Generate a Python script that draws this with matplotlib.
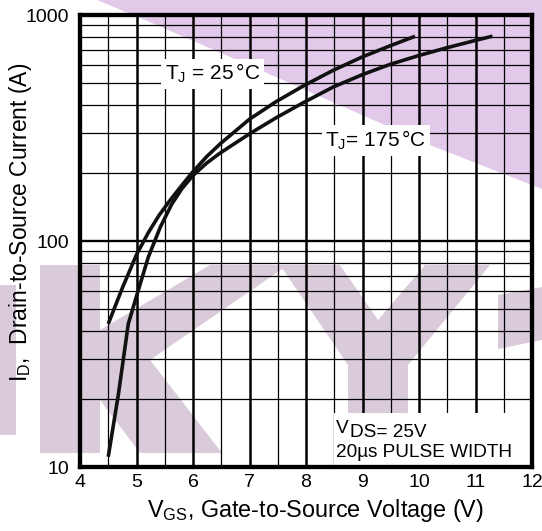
import numpy as np
import matplotlib
matplotlib.use("Agg")
import matplotlib.pyplot as plt
from matplotlib.patches import Polygon, Rectangle
from matplotlib.ticker import LogLocator, NullFormatter, FixedLocator

# transfer characteristics
vgs_25 = [4.5, 4.75, 5.0, 5.21, 5.4, 5.59, 5.8, 5.98, 6.24, 6.48, 7.0, 7.48,
          7.95, 8.48, 9.0, 9.49, 9.93]
id_25 = [43, 62, 87, 109, 130, 151, 176, 200, 236, 269, 346, 415,
         485, 569, 653, 731, 805]

vgs_175 = [4.5, 4.68, 4.855, 5.0, 5.21, 5.42, 5.62, 5.8, 6.0, 6.24, 6.48, 7.0,
           7.48, 7.95, 8.48, 9.0, 9.49, 10.0, 10.49, 11.0, 11.3]
id_175 = [11.1, 21, 43, 57, 85, 115, 145, 170, 195, 221, 245, 298,
          352, 409, 480, 545, 605, 662, 716, 772, 806]

x_ticks = [4, 5, 6, 7, 8, 9, 10, 11, 12]
y_ticks = [10, 100, 1000]
y_ticklabels = ["10", "100", "1000"]

plt.rcParams["font.family"] = ["Liberation Sans", "DejaVu Sans"]
plt.rcParams["mathtext.fontset"] = "custom"
plt.rcParams["mathtext.rm"] = "Liberation Sans"
plt.rcParams["mathtext.it"] = "Liberation Sans:italic"
plt.rcParams["mathtext.bf"] = "Liberation Sans:bold"

W, H = 542, 531
fig = plt.figure(figsize=(W / 100, H / 100), dpi=100)
fig.patch.set_facecolor("white")


def px(pts):
    return [(x / W, 1 - y / H) for x, y in pts]


# background watermark
lav = "#e2c9ea"
mauve = "#dacbdb"
shapes = [
    ([(97, 0), (145, 20), (260, 70), (430, 145), (542, 189), (542, 0)], lav),
    ([(0, 285), (16, 285), (16, 435), (0, 435)], mauve),
    ([(40, 265), (100, 265), (100, 330), (210, 265), (288, 265), (150, 360),
      (222, 453), (140, 453), (100, 400), (100, 453), (40, 453)], mauve),
    ([(280, 265), (340, 265), (378, 320), (425, 265), (490, 265), (408, 365),
      (408, 453), (348, 453), (348, 365)], mauve),
    ([(498, 295), (542, 287), (542, 340), (498, 349)], mauve),
]
for pts, c in shapes:
    fig.patches.append(Polygon(px(pts), closed=True, transform=fig.transFigure,
                               facecolor=c, edgecolor="none", zorder=-1))

ax = fig.add_axes([80 / W, 1 - 467 / H, 452 / W, 452 / H])
ax.set_facecolor("none")

ax.plot(vgs_25, id_25, color="#111111", lw=2.6, zorder=3, solid_capstyle="butt")
ax.plot(vgs_175, id_175, color="#111111", lw=2.6, zorder=3, solid_capstyle="butt")

ax.set_yscale("log")
ax.set_xlim(4, 12)
ax.set_ylim(10, 1000)
ax.set_xticks(x_ticks)
ax.xaxis.set_minor_locator(FixedLocator(np.arange(4.5, 12, 1.0)))
ax.set_yticks(y_ticks)
ax.set_yticklabels(y_ticklabels)
ax.yaxis.set_minor_locator(LogLocator(base=10, subs=range(2, 10)))
ax.yaxis.set_minor_formatter(NullFormatter())

ax.set_axisbelow(True)
ax.grid(which="major", axis="x", color="black", lw=1.8)
ax.grid(which="minor", axis="x", color="black", lw=0.9)
ax.grid(which="major", axis="y", color="black", lw=1.7)
ax.grid(which="minor", axis="y", color="black", lw=0.9)

ax.tick_params(which="both", length=0, labelsize=14)
ax.tick_params(axis="x", pad=5)
ax.tick_params(axis="y", pad=8)
for s in ax.spines.values():
    s.set_linewidth(3.1)

# white area behind the test-condition note
ax.add_patch(Rectangle((8.5, 10), 3.5, 7.3, facecolor="white", edgecolor="none", zorder=1))

box = dict(facecolor="white", edgecolor="none", pad=2.5)
ax.text(5.5, 515, r"T$_\mathregular{J}$ = 25$\,$°C", fontsize=15, ha="left",
        va="baseline", bbox=box, zorder=4)
ax.text(8.34, 261, r"T$_\mathregular{J}$= 175$\,$°C", fontsize=15, ha="left",
        va="baseline", bbox=box, zorder=4)

ax.text(8.53, 14.1, "V", fontsize=13.7, ha="left", va="baseline", zorder=4)
ax.text(8.77, 13.6, "DS= 25V", fontsize=13.7, ha="left", va="baseline", zorder=4)
ax.text(8.53, 11.1, "20µs PULSE WIDTH", fontsize=13.7, ha="left", va="baseline", zorder=4)

fig.text(315 / W, 1 - 517 / H, r"V$_\mathregular{GS}$, Gate-to-Source Voltage (V)",
         fontsize=16.8, ha="center", va="baseline")
fig.text(21 / W, 1 - 222 / H, r"I$_\mathregular{D}$,  Drain-to-Source Current (A)",
         fontsize=16.5, ha="center", va="center", rotation=90)

fig.savefig("out.png", dpi=100)
